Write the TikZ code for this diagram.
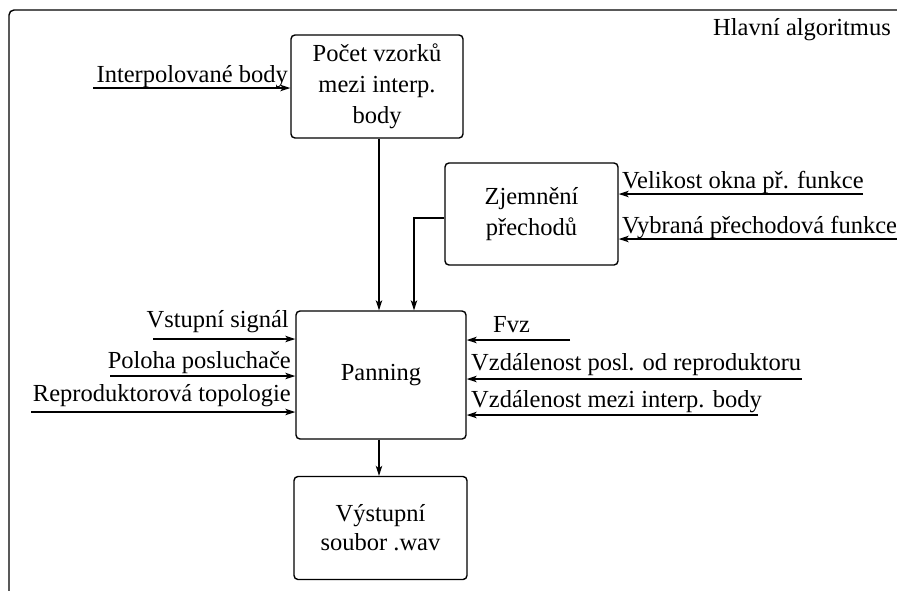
\documentclass[tikz,border=0pt]{standalone}
\usepackage{fontspec}
\setmainfont{Liberation Serif}
\usetikzlibrary{arrows.meta}
\begin{document}
\begin{tikzpicture}[x=1pt,y=-1pt,
 box/.style={draw, line width=1.4pt, rounded corners=4pt, align=center, inner sep=0pt,
   font=\fontsize{24.5}{31}\selectfont},
 arr/.style={line width=1.2pt, -{Stealth[length=10pt,width=6.5pt,inset=2.5pt]}},
 lbl/.style={inner sep=0pt, font=\fontsize{24.5}{29}\selectfont}]
\useasboundingbox (0,0) rectangle (897,590);
\clip (0,0) rectangle (897,590);
\fill[white] (0,0) rectangle (897,590);
% outer frame
\draw[line width=1.4pt, rounded corners=5pt] (9,600) -- (9,10) -- (910,10);
\node[lbl, anchor=base west] (title) at (713,35) {Hlavní algoritmus};
% boxes
\node[box, minimum width=172pt, minimum height=103pt] (b1) at (377,86.5) {Počet vzorků\\mezi interp.\\body};
\node[box, minimum width=173pt, minimum height=102pt] (b2) at (531.5,214) {Zjemnění\\přechodů};
\node[box, minimum width=170pt, minimum height=128pt] (pan) at (381,375) {Panning};
\node[box, minimum width=173pt, minimum height=103pt, font=\fontsize{24.5}{29}\selectfont] (out) at (380.5,528) {Výstupní\\soubor .wav};
% internal connectors
\draw[arr] ([xshift=2pt]b1.south) -- ([xshift=2pt]b1.south |- pan.north);
\draw[arr] ([yshift=-4pt]b2.west) -| ([xshift=33pt]pan.north);
\draw[arr] ([xshift=-2pt]pan.south) -- ([xshift=-2pt]pan.south |- out.north);
% left inputs
\coordinate (i1) at (93,88);
\coordinate (i2) at (153,339);
\coordinate (i3) at (110,376);
\coordinate (i4) at (31,412);
\node[lbl, anchor=base east] (t1) at (288,82) {Interpolované body};
\node[lbl, anchor=base east] (t2) at (289,327) {Vstupní signál};
\node[lbl, anchor=base east] (t3) at (291,368) {Poloha posluchače};
\node[lbl, anchor=base east] (t4) at (291,401) {Reproduktorová topologie};
\draw[arr] (i1) -- (i1 -| b1.west);
\draw[arr] (i2) -- (i2 -| pan.west);
\draw[arr] (i3) -- (i3 -| pan.west);
\draw[arr] (i4) -- (i4 -| pan.west);
% right inputs
\coordinate (r1) at (570,340);
\coordinate (r2) at (802,379);
\coordinate (r3) at (758,415);
\coordinate (r4) at (863,194);
\coordinate (r5) at (910,239);
\node[lbl, anchor=base west] (u1) at (493,332) {Fvz};
\node[lbl, anchor=base west] (u2) at (471,370) {Vzdálenost posl. od reproduktoru};
\node[lbl, anchor=base west] (u3) at (471,407) {Vzdálenost mezi interp. body};
\node[lbl, anchor=base west] (u4) at (622,188) {Velikost okna př. funkce};
\node[lbl, anchor=base west] (u5) at (622,233) {Vybraná přechodová funkce};
\draw[arr] (r1) -- (r1 -| pan.east);
\draw[arr] (r2) -- (r2 -| pan.east);
\draw[arr] (r3) -- (r3 -| pan.east);
\draw[arr] (r4) -- (r4 -| b2.east);
\draw[arr] (r5) -- (r5 -| b2.east);
\end{tikzpicture}
\end{document}
